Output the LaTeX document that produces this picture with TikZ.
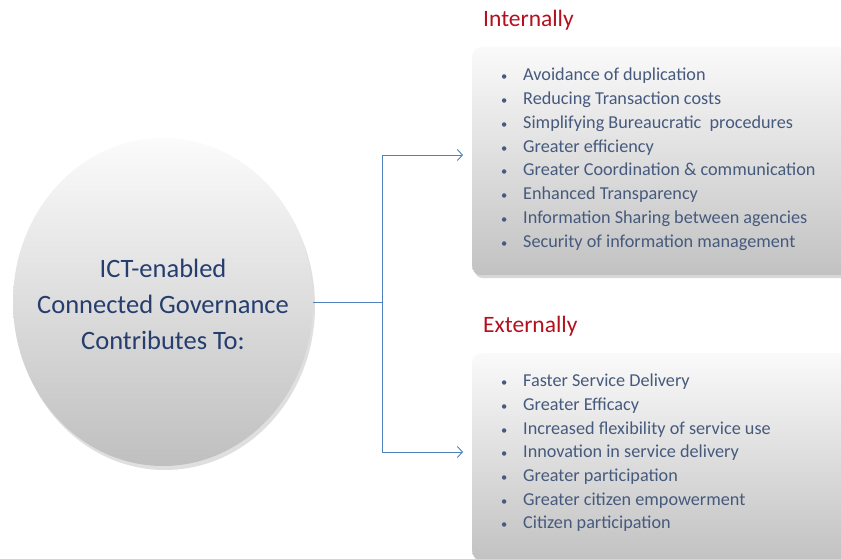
\documentclass[tikz,border=0pt]{standalone}
\usepackage{fontspec}
\setmainfont{Carlito}
\usetikzlibrary{shapes.geometric,shadows,arrows.meta}
\definecolor{navy}{RGB}{38,62,110}
\definecolor{slate}{RGB}{70,90,125}
\definecolor{hdred}{RGB}{180,16,30}
\definecolor{conn}{RGB}{79,129,189}
\tikzset{
  x=1pt,y=-1pt,
  bubble/.style={ellipse,minimum width=300pt,minimum height=328pt,inner sep=0pt,
    top color=white!97!gray,bottom color=gray!50,
    drop shadow={opacity=0.25,shadow xshift=2pt,shadow yshift=-4pt}},
  listbox/.style={rectangle,rounded corners=9pt,anchor=north west,inner sep=0pt,
    minimum width=420pt,top color=white!96!gray,bottom color=gray!48,
    drop shadow={opacity=0.3,shadow xshift=2pt,shadow yshift=-3pt}},
  header/.style={anchor=west,font=\fontsize{23.5}{28}\selectfont,text=hdred,inner sep=0pt},
  item/.style={anchor=west,font=\fontsize{18.2}{22}\selectfont,text=slate,inner sep=0pt,
    text height=12pt,text depth=4.5pt},
  conline/.style={draw=conn,line width=0.9pt},
  conarrow/.style={conline,-{Straight Barb[length=5pt,width=11pt,line width=0.9pt]}}
}
\begin{document}
\begin{tikzpicture}
\useasboundingbox (0,0) rectangle (841,559);
\clip (0,0) rectangle (841,559);
\fill[white] (0,0) rectangle (841,559);
% main bubble
\node[bubble] (gov) at (163,302) {};
\node[align=center,font=\fontsize{26.5}{36}\selectfont,text=navy] (govtext) at (163,304)
  {ICT-enabled\\Connected Governance\\Contributes To:};
% boxes
\node[listbox,minimum height=228pt] (intbox) at (472,47) {};
\node[listbox,minimum height=207pt] (extbox) at (472,353) {};
% headers
\node[header] (inth) at (483,20) {Internally};
\node[header] (exth) at (483,326) {Externally};
% internal list
\foreach \t [count=\i] in {Avoidance of duplication,Reducing Transaction costs,Simplifying Bureaucratic\ \ procedures,Greater efficiency,Greater Coordination \& communication,Enhanced Transparency,Information Sharing between agencies,Security of information management}{
  \node[item] (ib\i) at (501,{77+(\i-1)*23.8}) {\makebox[22pt][l]{\fontsize{12.5}{12}\selectfont\textbullet}\t};
}
% external list
\foreach \t [count=\i] in {Faster Service Delivery,Greater Efficacy,Increased flexibility of service use,Innovation in service delivery,Greater participation,Greater citizen empowerment,Citizen participation}{
  \node[item] (eb\i) at (501,{383+(\i-1)*23.7}) {\makebox[22pt][l]{\fontsize{12.5}{12}\selectfont\textbullet}\t};
}
% connectors
\coordinate (j) at (382,302);
\coordinate (jt) at (382,155);
\coordinate (jb) at (382,452);
\coordinate (at) at (463,155);
\coordinate (ab) at (463,452);
\draw[conline] (gov.east) -- (j);
\draw[conline] (jt) -- (jb);
\draw[conarrow] (jt) -- (at);
\draw[conarrow] (jb) -- (ab);
\end{tikzpicture}
\end{document}
